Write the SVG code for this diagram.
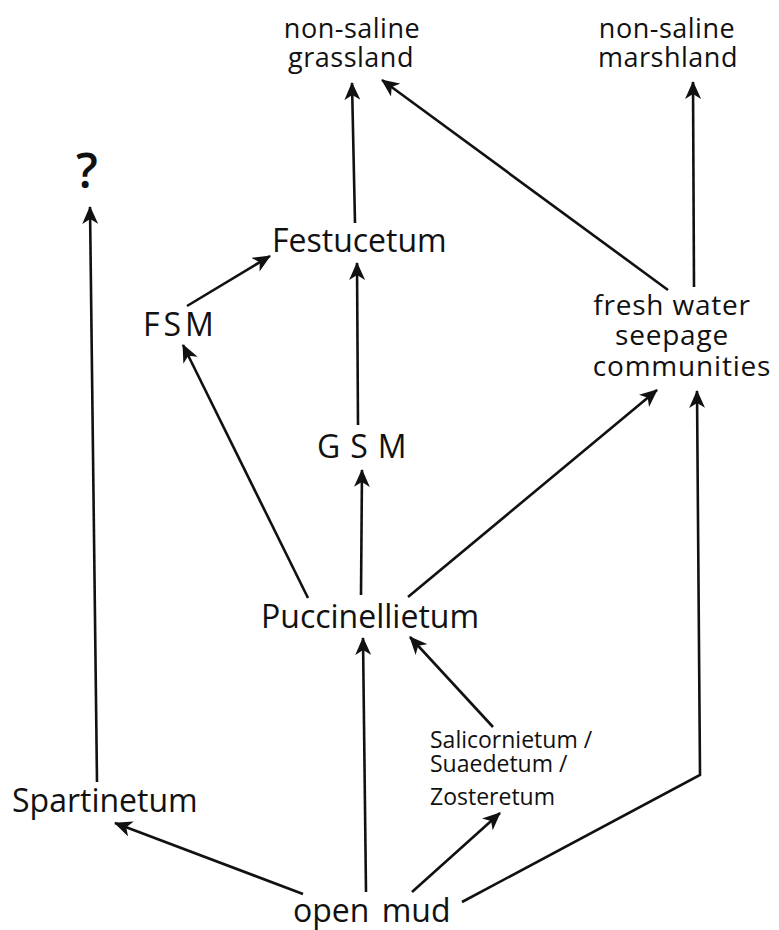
<svg xmlns="http://www.w3.org/2000/svg" width="779" height="930" viewBox="0 0 779 930">
<style>
  text { font-family: "Open Sans", "DejaVu Sans", sans-serif; fill: #111; }
  .big { font-size: 32px; }
  .top { font-size: 27px; letter-spacing: 0.5px; }
  .mid { font-size: 28px; letter-spacing: 0.8px; }
  .sm { font-size: 23px; }
  .q { font-size: 48px; font-weight: 600; }
  .c { text-anchor: middle; }
  .conn line, .conn polyline { stroke: #111; stroke-width: 2.6; fill: none; }
</style>
<defs>
  <marker id="ah" markerUnits="userSpaceOnUse" viewBox="0 0 18 16" refX="17" refY="8" markerWidth="18" markerHeight="16" orient="auto">
    <path d="M0,0 L18,8 L0,16 L5,8 z" fill="#111"/>
  </marker>
</defs>
<rect width="779" height="930" fill="#fff"/>

<g id="grassland"><text class="top c" x="352" y="38">non-saline</text><text class="top c" x="351" y="67">grassland</text></g>
<g id="marshland"><text class="top c" x="667" y="38">non-saline</text><text class="top c" x="668" y="67">marshland</text></g>
<g id="unknown"><text class="q" x="76" y="188">?</text></g>
<g id="festucetum"><text class="big" x="272" y="252">Festucetum</text></g>
<g id="fsm"><text class="big" x="143" y="336" letter-spacing="4">FSM</text></g>
<g id="gsm"><text class="big" x="317" y="458" letter-spacing="10">GSM</text></g>
<g id="freshwater"><text class="mid c" x="672" y="315">fresh water</text><text class="mid c" x="672" y="345">seepage</text><text class="mid c" x="682" y="376">communities</text></g>
<g id="puccinellietum"><text class="big" x="261" y="628">Puccinellietum</text></g>
<g id="salicornietum"><text class="sm" x="430" y="748">Salicornietum /</text><text class="sm" x="430" y="772">Suaedetum /</text><text class="sm" x="430" y="805">Zosteretum</text></g>
<g id="spartinetum"><text class="big" x="12" y="812">Spartinetum</text></g>
<g id="openmud"><text class="big" x="293" y="922" word-spacing="4">open mud</text></g>

<g id="connectors" class="conn">
  <line x1="97" y1="782" x2="90" y2="207" marker-end="url(#ah)"/>
  <line x1="355" y1="223" x2="352" y2="83" marker-end="url(#ah)"/>
  <line x1="668" y1="290" x2="382" y2="80" marker-end="url(#ah)"/>
  <line x1="694" y1="287" x2="693" y2="82" marker-end="url(#ah)"/>
  <line x1="187" y1="306" x2="270" y2="256" marker-end="url(#ah)"/>
  <line x1="358" y1="425" x2="357" y2="263" marker-end="url(#ah)"/>
  <line x1="308" y1="598" x2="183" y2="345" marker-end="url(#ah)"/>
  <line x1="361" y1="595" x2="362" y2="470" marker-end="url(#ah)"/>
  <line x1="408" y1="597" x2="657" y2="390" marker-end="url(#ah)"/>
  <line x1="493" y1="727" x2="410" y2="637" marker-end="url(#ah)"/>
  <line x1="303" y1="894" x2="115" y2="823" marker-end="url(#ah)"/>
  <line x1="366" y1="892" x2="363" y2="638" marker-end="url(#ah)"/>
  <line x1="412" y1="892" x2="500" y2="813" marker-end="url(#ah)"/>
  <polyline points="462,902 700,775 697,391" marker-end="url(#ah)"/>
</g>
</svg>
